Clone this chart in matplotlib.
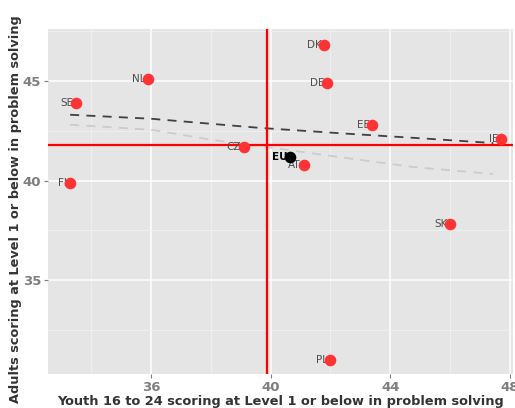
import numpy as np
import matplotlib.pyplot as plt

# data
countries = ['DK', 'DE', 'NL', 'SE', 'EE', 'IE', 'CZ', 'AT', 'FI', 'SK', 'PL']
youth = [41.8, 41.9, 35.9, 33.5, 43.4, 47.7, 39.1, 41.1, 33.3, 46.0, 42.0]
adults = [46.8, 44.9, 45.1, 43.9, 42.8, 42.1, 41.7, 40.8, 39.9, 37.8, 31.0]

eu_youth = 40.65
eu_adults = 41.2

# vertical / horizontal reference lines
ref_x = 39.88
ref_y = 41.78

# smoothed trend lines
trend_x = [33.3, 36.0, 39.65, 42.66, 45.33, 47.44]
trend_y = [43.3, 43.1, 42.64, 42.34, 42.09, 41.88]
trend2_x = [33.3, 36.0, 38.0, 39.88, 41.55, 44.76, 47.44]
trend2_y = [42.8, 42.55, 42.05, 41.68, 41.33, 40.68, 40.33]

fig = plt.figure(figsize=(5.15, 4.08), dpi=100)
ax = fig.add_axes([48/515, 34/408, 465/515, 345/408])
ax.set_facecolor('#E5E5E5')
for s in ax.spines.values():
    s.set_visible(False)

ax.set_xlim(32.56, 48.1)
ax.set_ylim(30.3, 47.6)
ax.set_xticks([36, 40, 44, 48])
ax.set_yticks([35, 40, 45])
ax.set_xticks([34, 38, 42, 46], minor=True)
ax.set_yticks([32.5, 37.5, 42.5, 47.5], minor=True)
ax.grid(which='major', color='white', linewidth=1.1)
ax.grid(which='minor', color='#F0F0F0', linewidth=0.6)
ax.set_axisbelow(True)
ax.tick_params(which='minor', length=0)
ax.tick_params(which='major', length=3, color='#7F7F7F', labelsize=9.5,
               labelcolor='#7F7F7F', pad=2)
for lab in ax.get_xticklabels() + ax.get_yticklabels():
    lab.set_fontweight('bold')

ax.plot(trend2_x, trend2_y, color='#CCCCCC', linestyle=(0, (5, 4)), linewidth=1.3, zorder=2)
ax.plot(trend_x, trend_y, color='#404040', linestyle=(0, (5, 4)), linewidth=1.3, zorder=2)

ax.axvline(ref_x, color='red', linewidth=1.6, zorder=3)
ax.axhline(ref_y, color='red', linewidth=1.6, zorder=3)

for c, x, y in zip(countries, youth, adults):
    ax.annotate(c, (x, y), xytext=(-2, 0), textcoords='offset points',
                ha='right', va='center', fontsize=7.5, color='#4D4D4D', zorder=4)
ax.scatter(youth, adults, s=70, color='#FF3333', zorder=5, linewidths=0)

ax.annotate('EU', (eu_youth, eu_adults), xytext=(-2, 0), textcoords='offset points',
            ha='right', va='center', fontsize=7.5, color='black',
            fontweight='bold', zorder=4)
ax.scatter([eu_youth], [eu_adults], s=70, color='black', zorder=5, linewidths=0)

ax.set_xlabel('Youth 16 to 24 scoring at Level 1 or below in problem solving',
              fontsize=9.3, fontweight='bold', color='#333333', labelpad=1)
# y label runs off the top edge, as in the original
fig.text(16/515, 5/408, 'Adults scoring at Level 1 or below in problem solving',
         rotation=90, ha='center', va='bottom', fontsize=9.3,
         fontweight='bold', color='#333333')

fig.savefig('out.png', dpi=100)
